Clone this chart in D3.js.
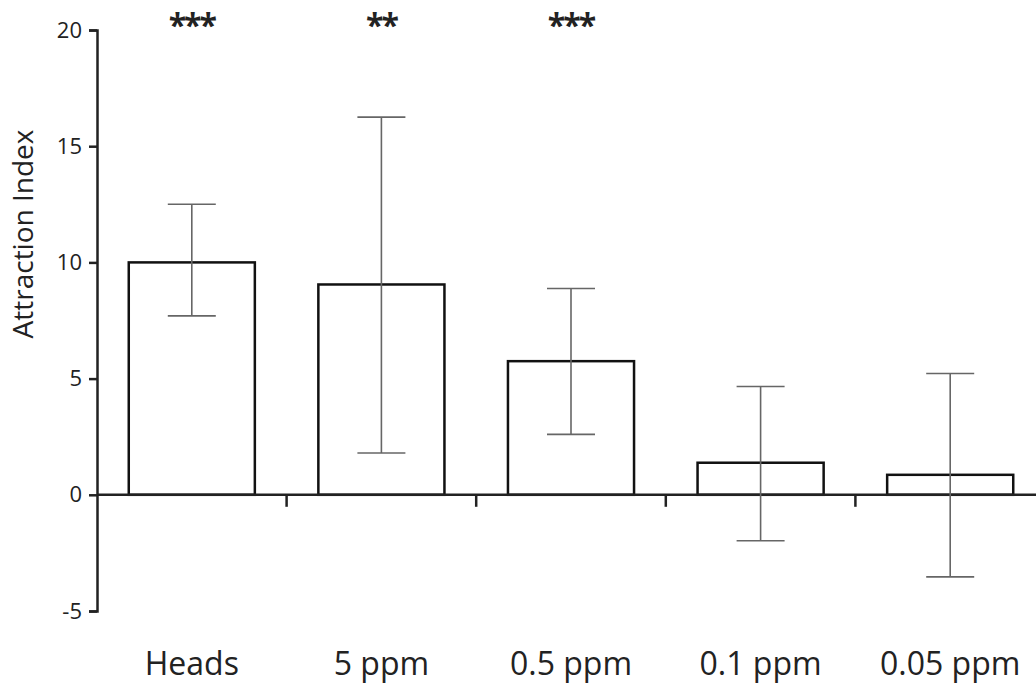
<!DOCTYPE html>
<html lang="en">
<head>
    <meta charset="UTF-8">
    <script src="https://cdn.jsdelivr.net/npm/d3@7"></script>
    <style>
        body { margin: 0; background: #fff; }
        text { font-family: "Open Sans", "Noto Sans", sans-serif; fill: #222; }
    </style>
    <title>Attraction Index</title>
</head>
<body>
    <div id="chart"></div>
    <script>
        // data
        const categories = ["Heads", "5 ppm", "0.5 ppm", "0.1 ppm", "0.05 ppm"];
        const means = [10.0, 9.05, 5.75, 1.38, 0.86];
        const errHigh = [12.5, 16.25, 8.88, 4.66, 5.22];
        const errLow = [7.7, 1.8, 2.6, -1.98, -3.53];
        const stars = ["***", "**", "***", "", ""];
        const yTicks = [-5, 0, 5, 10, 15, 20];

        const width = 1036, height = 687;

        const svg = d3.select("#chart").append("svg")
            .attr("width", width)
            .attr("height", height);

        // scales
        const x = d3.scaleBand()
            .domain(categories)
            .range([97, 1045])
            .paddingInner(0.335)
            .paddingOuter(0.1675);

        const y = d3.scaleLinear()
            .domain([-5, 20])
            .range([611, 30]);

        // y axis
        const yAxis = d3.axisLeft(y)
            .tickValues(yTicks)
            .tickSize(8)
            .tickPadding(7)
            .tickFormat(d => String(d));

        const gy = svg.append("g")
            .attr("transform", "translate(97,0)")
            .call(yAxis);
        gy.select(".domain").attr("stroke", "#222").attr("stroke-width", 2.5);
        gy.selectAll(".tick line").attr("stroke", "#222").attr("stroke-width", 2.5);
        gy.selectAll(".tick text")
            .style("font-size", "22px")
            .attr("fill", "#222");

        // y label
        svg.append("text")
            .attr("transform", "translate(33,234) rotate(-90)")
            .attr("text-anchor", "middle")
            .style("font-size", "28px")
            .text("Attraction Index");

        // bars
        svg.selectAll("rect.bar")
            .data(categories)
            .enter()
            .append("rect")
            .attr("class", "bar")
            .attr("x", d => x(d))
            .attr("width", x.bandwidth())
            .attr("y", (d, i) => y(means[i]))
            .attr("height", (d, i) => y(0) - y(means[i]))
            .attr("fill", "#fff")
            .attr("stroke", "#111")
            .attr("stroke-width", 2.5);

        // zero line with separator ticks
        svg.append("line")
            .attr("x1", 97).attr("x2", width)
            .attr("y1", y(0)).attr("y2", y(0))
            .attr("stroke", "#222")
            .attr("stroke-width", 2.5);

        svg.selectAll("line.sep")
            .data(categories.slice(1))
            .enter()
            .append("line")
            .attr("class", "sep")
            .attr("x1", d => x(d) - x.step() * x.paddingInner() / 2)
            .attr("x2", d => x(d) - x.step() * x.paddingInner() / 2)
            .attr("y1", y(0))
            .attr("y2", y(0) + 12)
            .attr("stroke", "#222")
            .attr("stroke-width", 2.5);

        // error bars
        const cap = 24;
        const err = svg.append("g")
            .attr("stroke", "#666")
            .attr("stroke-width", 1.6);
        categories.forEach((c, i) => {
            const cx = x(c) + x.bandwidth() / 2;
            err.append("line")
                .attr("x1", cx).attr("x2", cx)
                .attr("y1", y(errHigh[i])).attr("y2", y(errLow[i]));
            err.append("line")
                .attr("x1", cx - cap).attr("x2", cx + cap)
                .attr("y1", y(errHigh[i])).attr("y2", y(errHigh[i]));
            err.append("line")
                .attr("x1", cx - cap).attr("x2", cx + cap)
                .attr("y1", y(errLow[i])).attr("y2", y(errLow[i]));
        });

        // significance stars
        svg.selectAll("text.star")
            .data(categories)
            .enter()
            .append("text")
            .attr("class", "star")
            .attr("x", d => x(d) + x.bandwidth() / 2)
            .attr("y", 37)
            .attr("text-anchor", "middle")
            .style("font-size", "32px")
            .style("font-weight", "bold")
            .style("letter-spacing", "-2px")
            .text((d, i) => stars[i]);

        // category labels
        svg.selectAll("text.cat")
            .data(categories)
            .enter()
            .append("text")
            .attr("class", "cat")
            .attr("x", d => x(d) + x.bandwidth() / 2)
            .attr("y", 675)
            .attr("text-anchor", "middle")
            .style("font-size", "32px")
            .text(d => d);
    </script>
</body>
</html>
